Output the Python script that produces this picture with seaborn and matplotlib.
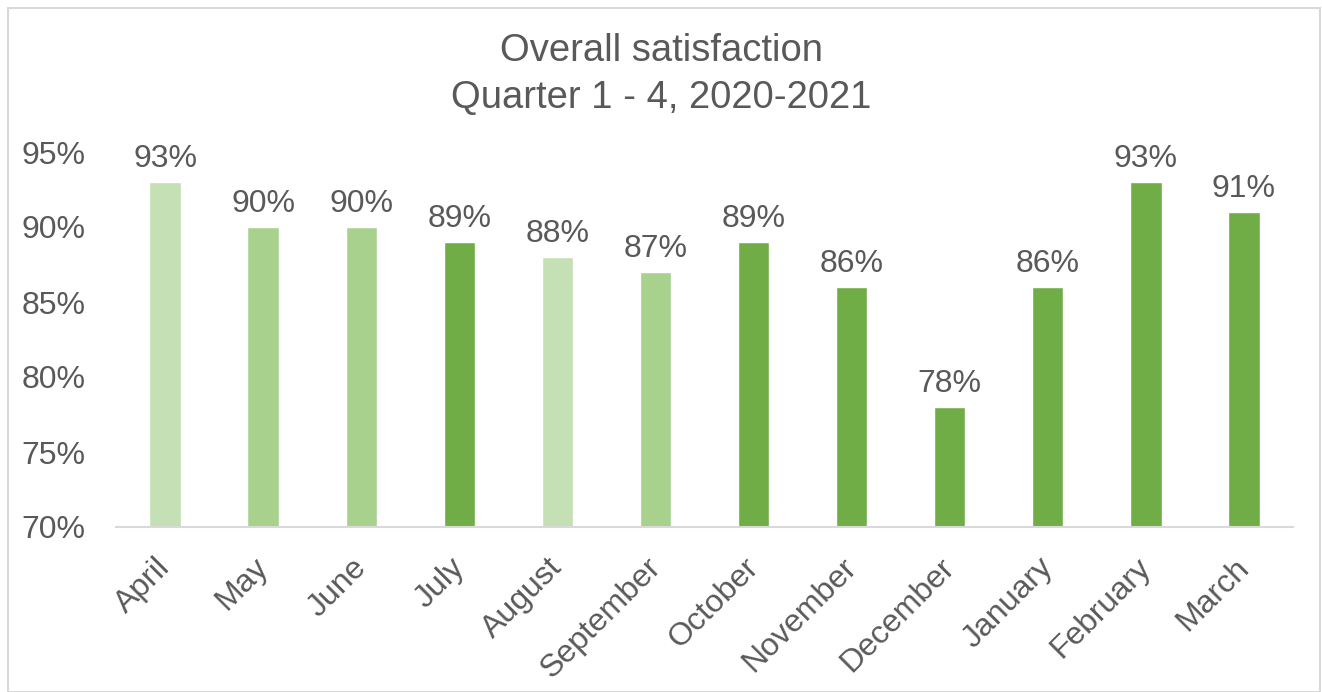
import matplotlib
matplotlib.use("Agg")
import matplotlib.pyplot as plt
import matplotlib.patches as mpatches
import matplotlib.transforms as mtransforms
import seaborn as sns
import pandas as pd

months = ["April", "May", "June", "July", "August", "September", "October",
          "November", "December", "January", "February", "March"]
satisfaction = [93, 90, 90, 89, 88, 87, 89, 86, 78, 86, 93, 91]
bar_colors = ["#C5E0B4", "#A9D18E", "#A9D18E", "#70AD47", "#C5E0B4", "#A9D18E",
              "#70AD47", "#70AD47", "#70AD47", "#70AD47", "#70AD47", "#70AD47"]
y_ticks = [70, 75, 80, 85, 90, 95]

sns.set_theme(style="white")
plt.rcParams["font.family"] = ["Liberation Sans", "DejaVu Sans"]
text_color = "#595959"

df = pd.DataFrame({"month": months, "value": satisfaction})

fig = plt.figure(figsize=(13.22, 6.92), dpi=100)
ax = fig.add_axes([116 / 1322, 1 - 527 / 692, (1293 - 116) / 1322, (527 - 152) / 692])

sns.barplot(data=df, x="month", y="value", hue="month", palette=bar_colors,
            legend=False, width=0.32, ax=ax, saturation=1)

ax.set_ylim(70, 95)
ax.set_yticks(y_ticks)
ax.set_yticklabels([f"{t}%" for t in y_ticks], fontsize=23, color=text_color)
ax.set_xlabel("")
ax.set_ylabel("")
ax.tick_params(axis="y", length=0, pad=22)
ax.tick_params(axis="x", length=0, pad=9)

# nudge the slanted month labels down and to the left
shift = mtransforms.ScaledTranslation(-10 / 100, -13 / 100, fig.dpi_scale_trans)
for lbl in ax.get_xticklabels():
    lbl.set_rotation(45)
    lbl.set_ha("right")
    lbl.set_rotation_mode("anchor")
    lbl.set_fontsize(23)
    lbl.set_color(text_color)
    lbl.set_transform(lbl.get_transform() + shift)

for s in ["top", "right", "left"]:
    ax.spines[s].set_visible(False)
ax.spines["bottom"].set_color("#D9D9D9")
ax.spines["bottom"].set_linewidth(1.5)

for i, v in enumerate(satisfaction):
    ax.text(i, v + 0.55, f"{v}%", ha="center", va="bottom", fontsize=23,
            color=text_color, clip_on=False)

fig.text(0.5, 1 - 51 / 692, "Overall satisfaction", ha="center", va="center",
         fontsize=27.5, color=text_color)
fig.text(0.5, 1 - 98 / 692, "Quarter 1 - 4, 2020-2021", ha="center", va="center",
         fontsize=27.5, color=text_color)

# light frame around the whole chart area
fig.patches.append(mpatches.Rectangle((8 / 1322, 0), (1320 - 8) / 1322, 1 - 8 / 692,
                                      transform=fig.transFigure, fill=False,
                                      edgecolor="#D9D9D9", linewidth=1.5))

fig.savefig("out.png", dpi=100, facecolor="white")
